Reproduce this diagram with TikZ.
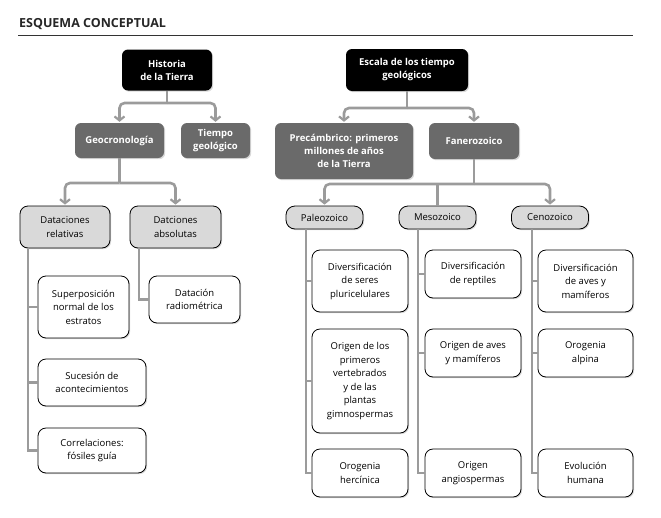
\documentclass[tikz,border=0pt]{standalone}
\usepackage{fontspec}
\setmainfont{Open Sans}
\usetikzlibrary{arrows.meta, shadows}

\definecolor{conngray}{HTML}{9B9B9B}
\definecolor{darkbox}{HTML}{6A6A6A}
\definecolor{lightbox}{HTML}{D9D9D9}

\begin{document}
\begin{tikzpicture}[x=1pt, y=-1pt]

\tikzset{root/.style = {shape=rectangle, rounded corners=6pt, fill=black, text=white, font=\bfseries\fontsize{9.5}{13}\selectfont, align=center, inner sep=2pt, drop shadow={shadow xshift=1.2pt, shadow yshift=-1.2pt, opacity=.3}}}
\tikzset{mid/.style = {root, fill=darkbox}}
\tikzset{group/.style = {shape=rectangle, rounded corners=8pt, draw=black, line width=0.8pt, fill=lightbox, font=\fontsize{9.5}{13.5}\selectfont, align=center, inner sep=2pt, drop shadow={shadow xshift=1.2pt, shadow yshift=-1.2pt, opacity=.3}}}
\tikzset{era/.style = {group, rounded corners=9pt, minimum width=77pt, minimum height=23pt}}
\tikzset{leaf/.style = {group, fill=white}}
\tikzset{conn/.style = {draw=conngray, line width=2.6pt, rounded corners=5pt}}
\tikzset{arr/.style = {conn, -{Straight Barb[length=4pt, width=10pt, line width=2.2pt]}, shorten >=1pt}}
\tikzset{branch/.style = {conn, sharp corners}}

\useasboundingbox (0,0) rectangle (661,517);

%title
\node[anchor=west, font=\bfseries\fontsize{12.5}{14}\selectfont, text=black!85, inner sep=0pt] (title) at (19,24) {ESQUEMA CONCEPTUAL};
\draw[line width=1pt, black!80] (18,35) -- (633,35);

%upper boxes
\node[root, minimum width=90pt, minimum height=41pt] (hist) at (167,70) {Historia\\de la Tierra};
\node[root, minimum width=122pt, minimum height=42pt] (escala) at (407,70) {Escala de los tiempo\\geológicos};
\node[mid, minimum width=89pt, minimum height=35pt] (geo) at (119.5,140.5) {Geocronología};
\node[mid, minimum width=69pt, minimum height=35pt] (tiempo) at (215.5,140.5) {Tiempo\\geológico};
\node[mid, minimum width=138pt, minimum height=56pt] (prec) at (344,151) {Precámbrico: primeros\\millones de años\\de la Tierra};
\node[mid, minimum width=90pt, minimum height=36pt] (fane) at (474,141) {Fanerozoico};

%groups
\node[group, minimum width=90pt, minimum height=42pt] (datrel) at (65,227) {Dataciones\\relativas};
\node[group, minimum width=91pt, minimum height=42pt] (databs) at (175.5,227) {Datciones\\absolutas};
\node[era] (paleo) at (324.5,217.5) {Paleozoico};
\node[era] (meso) at (437.5,217.5) {Mesozoico};
\node[era] (ceno) at (550,217.5) {Cenozoico};

%leaves
\node[leaf, minimum width=91pt, minimum height=62pt] (super) at (83.5,307) {Superposición\\normal de los\\estratos};
\node[leaf, minimum width=108pt, minimum height=47pt] (suces) at (92,382.5) {Sucesión de\\acontecimientos};
\node[leaf, minimum width=108pt, minimum height=45pt] (correl) at (92,450.5) {Correlaciones:\\fósiles guía};
\node[leaf, minimum width=91pt, minimum height=47pt] (radio) at (194.5,299.5) {Datación\\radiométrica};

\node[leaf, minimum width=96pt, minimum height=62pt] (pluri) at (360,281) {Diversificación\\de seres\\pluricelulares};
\node[leaf, minimum width=96pt, minimum height=104pt] (verte) at (360,381) {Origen de los\\primeros\\vertebrados\\y de las\\plantas\\gimnospermas};
\node[leaf, minimum width=96pt, minimum height=48pt] (herc) at (360,473) {Orogenia\\hercínica};

\node[leaf, minimum width=96pt, minimum height=48pt] (rept) at (473,274) {Diversificación\\de reptiles};
\node[leaf, minimum width=96pt, minimum height=48pt] (aves) at (473,353) {Origen de aves\\y mamíferos};
\node[leaf, minimum width=96pt, minimum height=48pt] (angio) at (473,473) {Origen\\angiospermas};

\node[leaf, minimum width=95pt, minimum height=62pt] (mami) at (585.5,281) {Diversificación\\de aves y\\mamíferos};
\node[leaf, minimum width=95pt, minimum height=48pt] (alp) at (585.5,353) {Orogenia\\alpina};
\node[leaf, minimum width=95pt, minimum height=48pt] (human) at (585.5,473) {Evolución\\humana};

%junctions
\coordinate (histj) at (167,103);
\coordinate (geoj) at (119.5,183);
\coordinate (escj) at (407,108);
\coordinate (fanej) at (474,184);
\coordinate (relline) at (28,248);
\coordinate (absline) at (139,248);
\coordinate (paleoline) at (306,229);
\coordinate (mesoline) at (418,229);
\coordinate (cenoline) at (532,229);

%connectors
\draw[conn] (hist.south) -- (histj);
\draw[arr] (histj) -| (geo.north);
\draw[arr] (histj) -| (tiempo.north);
\draw[conn] (geo.south) -- (geoj);
\draw[arr] (geoj) -| (datrel.north);
\draw[arr] (geoj) -| (databs.north);
\draw[conn] (escala.south) -- (escj);
\draw[arr] (escj) -| (prec.north);
\draw[arr] (escj) -| (fane.north);
\draw[conn] (fane.south) -- (fanej);
\draw[arr] (fanej) -| (paleo.north);
\draw[arr] (fanej) -| (ceno.north);
\draw[conn] (fanej -| meso.north) -- (meso.north);

\draw[branch] (relline) |- (correl.west);
\draw[branch] (relline |- super.west) -- (super.west);
\draw[branch] (relline |- suces.west) -- (suces.west);
\draw[branch] (absline) |- (radio.west);

\draw[branch] (paleoline) |- (herc.west);
\draw[branch] (paleoline |- pluri.west) -- (pluri.west);
\draw[branch] (paleoline |- verte.west) -- (verte.west);
\draw[branch] (mesoline) |- (angio.west);
\draw[branch] (mesoline |- rept.west) -- (rept.west);
\draw[branch] (mesoline |- aves.west) -- (aves.west);
\draw[branch] (cenoline) |- (human.west);
\draw[branch] (cenoline |- mami.west) -- (mami.west);
\draw[branch] (cenoline |- alp.west) -- (alp.west);

\end{tikzpicture}
\end{document}
